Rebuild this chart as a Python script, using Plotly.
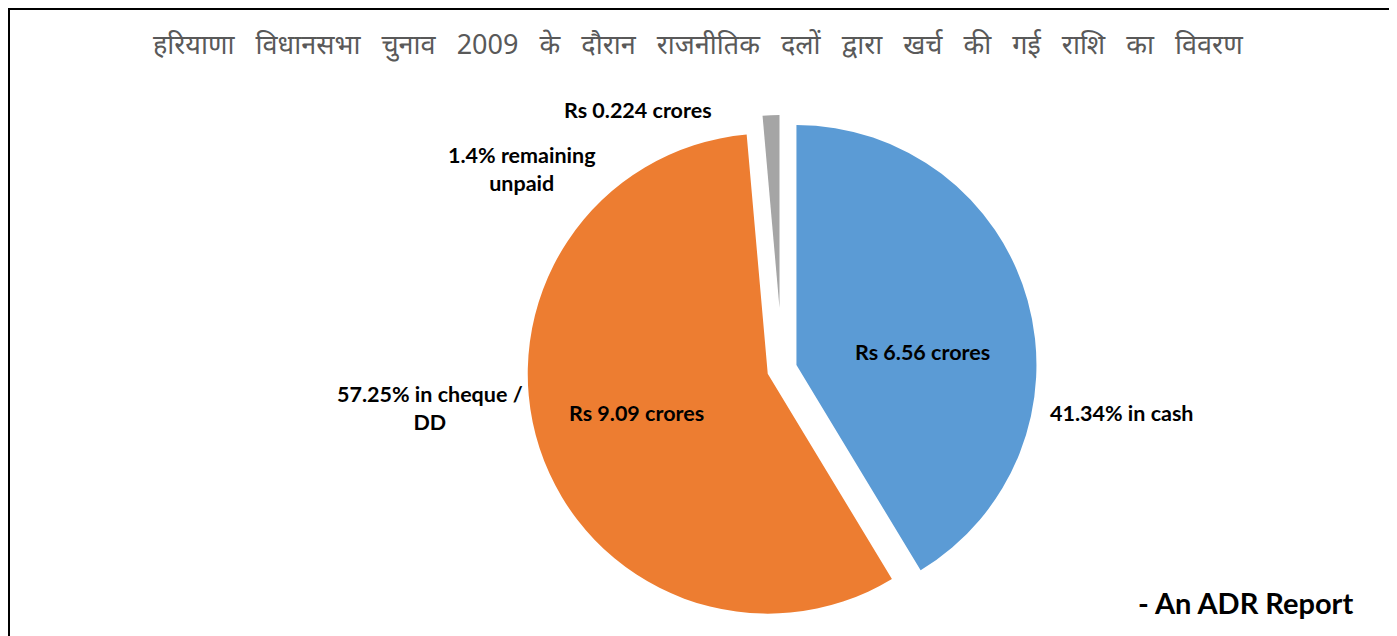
import plotly.graph_objects as go

# ---- data ----
categories = ["in cash", "in cheque / DD", "remaining unpaid"]
percent = [41.34, 57.25, 1.4]
amount_crores = [6.56, 9.09, 0.224]
title_words = ["हरियाणा", "विधानसभा", "चुनाव", "2009", "के", "दौरान", "राजनीतिक", "दलों",
               "द्वारा", "खर्च", "की", "गई", "राशि", "का", "विवरण"]
source_text = "- An ADR Report"

# ---- style / layout ----
OFF = 8                      # page body margin
WIN_W, WIN_H = 1397, 636
W, H = WIN_W - OFF, WIN_H - OFF
colors = ["#5B9BD5", "#ED7D31", "#A5A5A5"]
clear = "rgba(0,0,0,0)"
LABEL_FONT = dict(family="Lato, Open Sans, sans-serif", size=21.5, color="#000000")


def px(x):
    return (x - OFF) / W


def py(y):
    return 1 - (y - OFF) / H


def dom(cx, cy, half):
    return dict(x=[px(cx - half), px(cx + half)], y=[py(cy + half), py(cy - half)])


fig = go.Figure()

pull_main = 0.0625
radius = 240
fig.add_trace(go.Pie(
    labels=categories, values=percent, sort=False, direction="clockwise", rotation=0,
    marker=dict(colors=[colors[0], colors[1], clear], line=dict(width=0)),
    pull=[pull_main, pull_main, 0], textinfo="none", hoverinfo="label+percent",
    domain=dom(782, 369, radius * (1 + pull_main)), showlegend=False,
))
# strongly exploded small slice (clipped at plot-area top as in the original)
fig.add_trace(go.Pie(
    labels=categories, values=percent, sort=False, direction="clockwise", rotation=0,
    marker=dict(colors=[clear, clear, colors[2]], line=dict(width=0)),
    textinfo="none", hoverinfo="label+percent",
    domain=dom(779.5, 308, 193), showlegend=False,
))

inside_labels = [f"Rs {v:g} crores" for v in amount_crores]
outside_labels = [f"{percent[0]:g}% {categories[0]}",
                  f"{percent[1]:g}% in cheque /<br>DD",
                  f"{percent[2]:g}% remaining<br>unpaid"]
inside_pos = [(922, 352), (636, 413), (638, 110)]
outside_pos = [(1122, 413), (430, 408), (522, 169)]

annotations = []
for txt, (x, y) in zip(inside_labels + outside_labels, inside_pos + outside_pos):
    annotations.append(dict(text=f"<b>{txt}</b>", x=px(x), y=py(y), xref="paper", yref="paper",
                            showarrow=False, xanchor="center", yanchor="middle", align="center",
                            font=LABEL_FONT))
annotations.append(dict(text=" \u00a0\u00a0".join(title_words),
                        x=px(698), y=py(43), xref="paper", yref="paper", showarrow=False,
                        xanchor="center", yanchor="middle",
                        font=dict(family="Noto Sans, sans-serif", size=27, color="#595959")))
annotations.append(dict(text=f"<b>{source_text}</b>", x=px(1245), y=py(602), xref="paper",
                        yref="paper", showarrow=False, xanchor="center", yanchor="middle",
                        font=dict(family="Lato, Open Sans, sans-serif", size=29, color="#000000")))

fig.update_layout(
    width=W, height=H, margin=dict(l=0, r=0, t=0, b=0),
    paper_bgcolor="white", plot_bgcolor="white",
    annotations=annotations,
    shapes=[dict(type="rect", xref="paper", yref="paper",
                 x0=1 / W, x1=px(1390), y0=-0.05, y1=1 - 1 / H,
                 line=dict(color="#000000", width=2), fillcolor="rgba(0,0,0,0)")],
)

fig.write_html("out.html")
